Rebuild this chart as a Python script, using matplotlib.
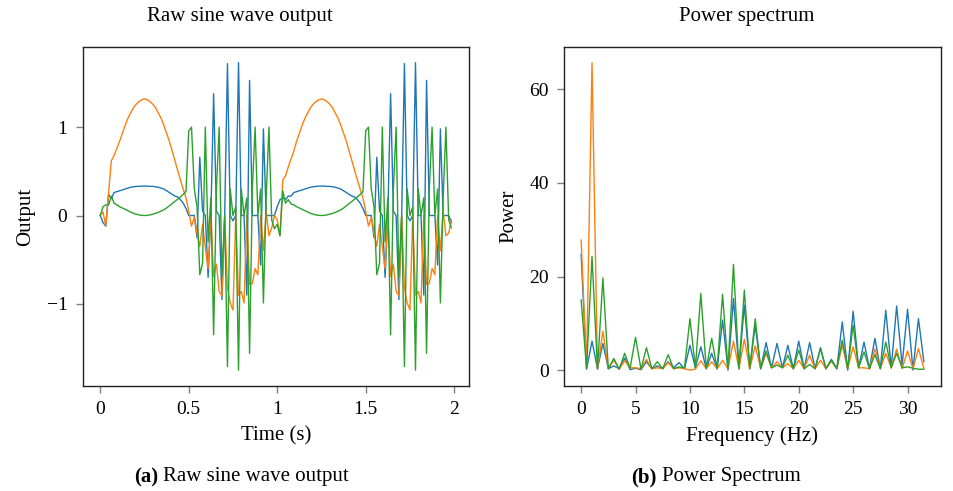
import numpy as np
import matplotlib.pyplot as plt

plt.rcParams['font.family'] = ['Liberation Serif', 'DejaVu Serif']

# ---- time series (128 samples over 2 s) ----
blue_hump1 = [0.0, -0.08, -0.12, 0.24, 0.19, 0.26, 0.27, 0.28, 0.29, 0.30, 0.31, 0.32,
              0.325, 0.33, 0.33, 0.333, 0.333, 0.333, 0.33, 0.33, 0.325, 0.32, 0.31, 0.30,
              0.28, 0.26, 0.24, 0.22, 0.21, 0.18, 0.14, 0.08]
blue_hump2 = [0.10, 0.18, 0.20, 0.18, 0.22, 0.22, 0.26, 0.27, 0.28, 0.29, 0.30, 0.31, 0.32,
              0.325, 0.33, 0.333, 0.333, 0.333, 0.33, 0.33, 0.325, 0.32, 0.31, 0.30,
              0.28, 0.26, 0.24, 0.22, 0.21, 0.18, 0.14, 0.08]
blue_spiky1 = [0, 0, 0, -0.25, 0.66, 0.05, 0, -0.7, 0, 1.38, 0.05, 0, -0.95, 0, 1.72, 0,
               -0.06, 0, 1.73, 0, 0, -0.9, 1.53, 0, 0, 0, -0.56, 0.98, 0, 0, 0, 0]
blue_spiky2 = [0, 0, 0, -0.25, 0.66, 0.05, 0, -0.7, 0, 1.38, 0.05, 0, -0.95, 0, 1.72, 0,
               -0.06, 0, 1.73, 0, 0, -0.9, 1.53, 0, 0, 0, -0.56, 0.98, 0, 0, 0, -0.08]

orange_hump1 = [0.0, 0.04, -0.12, 0.25, 0.62, 0.68, 0.76, 0.84, 0.93, 1.02, 1.10, 1.16,
                1.22, 1.26, 1.29, 1.31, 1.32, 1.31, 1.29, 1.26, 1.22, 1.16, 1.10, 1.02,
                0.93, 0.84, 0.73, 0.62, 0.51, 0.40, 0.30, 0.20]
orange_hump2 = [-0.05, -0.23, 0.40, 0.45, 0.55, 0.64, 0.73, 0.84, 0.93, 1.02, 1.10, 1.16,
                1.22, 1.26, 1.29, 1.31, 1.32, 1.31, 1.29, 1.26, 1.22, 1.16, 1.10, 1.02,
                0.93, 0.84, 0.73, 0.62, 0.51, 0.40, 0.30, 0.20]
orange_spiky1 = [0.05, -0.12, -0.02, -0.2, -0.35, -0.1, -0.36, -0.6, 0, -0.69, -0.55, -0.86,
                 -0.91, 0, -0.82, -0.99, -1.07, 0, -0.9, -0.86, -0.99, 0, -0.78, -0.77,
                 -0.6, -0.67, 0, -0.4, 0.05, -0.23, -0.14, 0]
orange_spiky2 = [0.05, -0.12, -0.02, -0.2, -0.35, -0.1, -0.36, -0.6, 0, -0.69, -0.55, -0.86,
                 -0.91, 0, -0.82, -0.99, -1.07, 0, -0.9, -0.86, -0.99, 0, -0.78, -0.77,
                 -0.6, -0.67, 0, -0.4, 0.05, -0.23, -0.2, -0.05]

green_hump1 = [0.0, 0.10, 0.12, 0.12, 0.22, 0.14, 0.12, 0.10, 0.085, 0.07, 0.055, 0.04,
               0.025, 0.015, 0.007, 0.002, 0.0, 0.002, 0.007, 0.015, 0.025, 0.035, 0.05,
               0.065, 0.085, 0.11, 0.135, 0.16, 0.185, 0.21, 0.24, 0.27]
green_hump2 = [-0.10, -0.23, 0.28, 0.14, 0.18, 0.13, 0.12, 0.10, 0.085, 0.07, 0.055, 0.04,
               0.025, 0.015, 0.007, 0.002, 0.0, 0.002, 0.007, 0.015, 0.025, 0.035, 0.05,
               0.065, 0.085, 0.11, 0.135, 0.16, 0.185, 0.21, 0.24, 0.27]
green_spiky1 = [0.96, 1.0, 0.3, 0.1, -0.67, -0.54, 1.0, -0.3, 0.2, -1.35, 0.3, 1.0, -0.7,
                0.0, -1.71, 0.3, 0.0, 0.1, -1.75, 0.3, 0.0, 0.2, -1.56, 0.3, 1.0, 0.0, 0.3,
                -0.99, 0.2, 1.0, -0.05, -0.15]
green_spiky2 = [0.96, 1.0, 0.3, 0.1, -0.67, -0.54, 1.0, -0.3, 0.2, -1.35, 0.3, 1.0, -0.7,
                0.0, -1.71, 0.3, 0.0, 0.1, -1.75, 0.3, 0.0, 0.2, -1.56, 0.3, 1.0, 0.0, 0.3,
                -0.99, 0.2, 1.0, -0.05, -0.14]

blue = blue_hump1 + blue_spiky1 + blue_hump2 + blue_spiky2
orange = orange_hump1 + orange_spiky1 + orange_hump2 + orange_spiky2
green = green_hump1 + green_spiky1 + green_hump2 + green_spiky2
time = np.arange(len(blue)) / 64

# ---- power spectrum (0 .. 31.5 Hz) ----
freq = np.arange(64) * 0.5
power_blue = [24.7, 0.2, 6.2, 0.3, 5.7, 0.3, 0.9, 0.3, 2.6, 0.1, 0.4, 0.1, 1.8, 0.3, 0.9, 0.3,
              1.8, 0.5, 1.6, 0.3, 5.3, 0.5, 5.0, 0.3, 3.6, 0.3, 10.7, 0.0, 15.3, 0.3, 13.9, 0.3,
              9.6, 0.3, 5.9, 0.5, 5.7, 0.5, 5.3, 0.3, 6.2, 0.3, 5.9, 0.3, 4.8, 0.3, 2.3, 0.3,
              10.3, 0.0, 12.6, 0.5, 6.0, 0.3, 6.8, 0.3, 12.8, 0.5, 13.7, 1.1, 13.0, 0.0, 11.0, 1.8]
power_orange = [27.8, 0.5, 65.7, 0.3, 8.3, 0.3, 2.1, 0.2, 2.0, 0.5, 0.5, 0.3, 2.3, 0.3, 0.5, 0.3,
                1.6, 0.3, 0.5, 0.3, 0.0, 0.2, 2.0, 0.3, 1.8, 0.3, 2.1, 0.3, 6.2, 0.3, 6.6, 0.3,
                5.2, 0.3, 3.6, 0.5, 1.8, 0.5, 1.4, 0.3, 2.1, 0.3, 3.2, 0.3, 2.1, 0.3, 1.9, 0.3,
                5.3, 0.3, 5.0, 0.5, 0.5, 0.3, 4.5, 0.3, 3.6, 0.5, 4.5, 0.3, 4.1, 0.3, 4.6, 0.4]
power_green = [15.0, 0.3, 24.3, 0.2, 19.7, 0.3, 2.5, 0.2, 3.6, 0.4, 7.0, 0.2, 4.8, 0.3, 1.8, 0.3,
               3.3, 0.3, 0.7, 0.5, 11.0, 0.5, 16.4, 0.3, 6.8, 0.3, 16.2, 0.3, 22.6, 0.3, 17.1, 0.3,
               11.0, 0.3, 4.1, 0.5, 1.1, 0.5, 3.2, 0.3, 4.3, 0.3, 1.2, 0.3, 4.6, 0.3, 2.1, 0.3,
               6.4, 0.3, 9.6, 0.5, 3.9, 0.3, 3.3, 0.3, 6.0, 0.5, 3.6, 0.5, 0.7, 0.4, 0.2, 0.2]

colors = ['#1f77b4', '#ff7f0e', '#2ca02c']

fig = plt.figure(figsize=(9.54, 4.91), dpi=100)
W, H = 954, 491
ax1 = fig.add_axes([82.7 / W, 1 - 385.5 / H, (469 - 82.7) / W, (385.5 - 47.3) / H])
ax2 = fig.add_axes([564 / W, 1 - 385.5 / H, (941 - 564) / W, (385.5 - 47.3) / H])

for series, c in zip([blue, orange, green], colors):
    ax1.plot(time, series, color=c, lw=1.0)
for series, c in zip([power_blue, power_orange, power_green], colors):
    ax2.plot(freq, series, color=c, lw=1.0)

ax1.set_xticks([0, 0.5, 1, 1.5, 2])
ax1.set_xticklabels(['0', '0.5', '1', '1.5', '2'])
ax1.set_yticks([-1, 0, 1])
ax1.set_yticklabels(['\u22121', '0', '1'])
ax2.set_xticks([0, 5, 10, 15, 20, 25, 30])
ax2.set_yticks([0, 20, 40, 60])

for ax in (ax1, ax2):
    ax.tick_params(labelsize=14, direction='out', length=5, width=1, color='#808080', pad=6)
    for s in ax.spines.values():
        s.set_linewidth(1.0)
        s.set_color('#222222')

ax1.set_xlabel('Time (s)', fontsize=15, labelpad=6)
ax1.set_ylabel('Output', fontsize=15, labelpad=8)
ax2.set_xlabel('Frequency (Hz)', fontsize=15, labelpad=6)
ax2.set_ylabel('Power', fontsize=15, labelpad=8)

fig.text(240 / W, 1 - 17 / H, 'Raw sine wave output', fontsize=15, ha='center', va='center')
fig.text(747 / W, 1 - 17 / H, 'Power spectrum', fontsize=15, ha='center', va='center')

# captions with bold labels
fig.text(158 / W, 1 - 477 / H, '(a)', fontsize=15, fontweight='bold', ha='right', va='center')
fig.text(163 / W, 1 - 477 / H, 'Raw sine wave output', fontsize=15, ha='left', va='center')
fig.text(657 / W, 1 - 477 / H, '(b)', fontsize=15, fontweight='bold', ha='right', va='center')
fig.text(662 / W, 1 - 477 / H, 'Power Spectrum', fontsize=15, ha='left', va='center')

fig.savefig('out.png', dpi=100)
